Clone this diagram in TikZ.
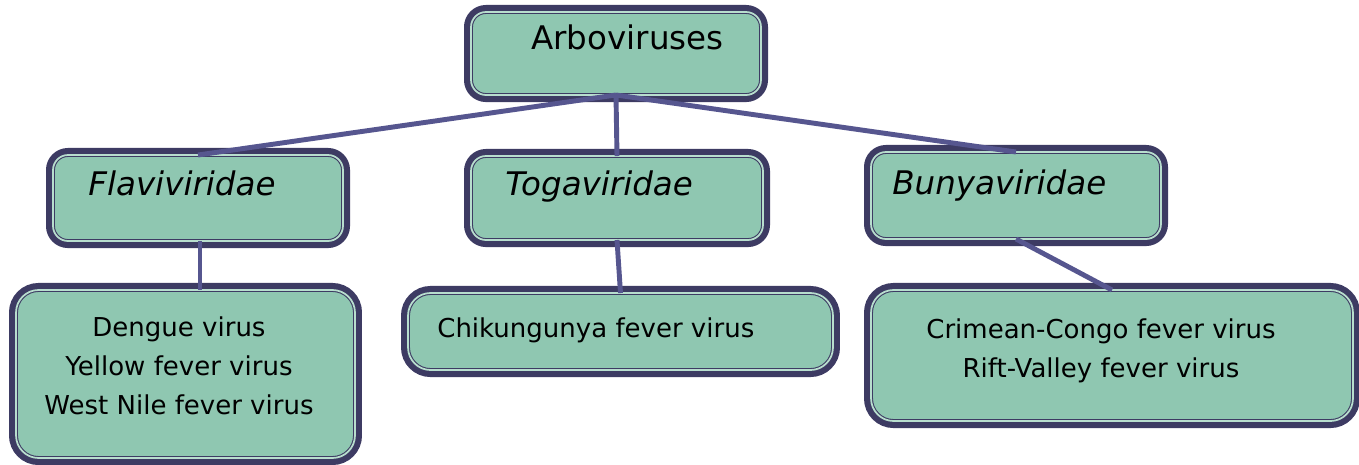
\documentclass[tikz,border=0pt]{standalone}
\usepackage{fontspec}
\setmainfont{DejaVu Sans}
\usetikzlibrary{calc,positioning}
\definecolor{BoxFill}{HTML}{8FC7B1}
\definecolor{BoxDark}{HTML}{3D3B63}
\definecolor{BoxLight}{HTML}{B8DECE}
\definecolor{LinkBlue}{HTML}{56568F}
\tikzset{
  head box/.style={rounded corners=0.3cm, fill=BoxFill, draw=BoxDark, line width=8pt,
    postaction={fill=BoxFill},
    postaction={draw=BoxDark, line width=0.6pt, double=BoxLight, double distance=1pt},
    inner sep=0, outer sep=0},
  leaf box/.style={head box, rounded corners=0.45cm},
  link/.style={LinkBlue, line width=2.8pt},
  head text/.style={font=\fontsize{18.5}{22}\selectfont, anchor=base west, inner sep=0},
  leaf text/.style={font=\fontsize{14.8}{22}\selectfont, align=center, anchor=base, inner sep=0}
}

\begin{document}
\begin{tikzpicture}[x=0.02cm, y=-0.02cm]
\useasboundingbox (0,0) rectangle (1359,464);

% family boxes
\node[head box, minimum width=5.8cm, minimum height=1.66cm] (arbo) at (616,53.5) {};
\node[head box, minimum width=5.8cm, minimum height=1.72cm] (flavi) at (198,198) {};
\node[head box, minimum width=5.84cm, minimum height=1.68cm] (toga) at (617,198) {};
\node[head box, minimum width=5.8cm, minimum height=1.74cm] (bunya) at (1016,195.5) {};

% virus boxes
\node[leaf box, minimum width=6.78cm, minimum height=3.36cm] (flavileaf) at (185.5,374) {};
\node[leaf box, minimum width=8.5cm, minimum height=1.54cm] (togaleaf) at (620.5,331.5) {};
\node[leaf box, minimum width=9.64cm, minimum height=2.62cm] (bunyaleaf) at (1112,355.5) {};

\node[head text] (arbolbl) at (531,49) {Arboviruses};
\node[head text, font=\fontsize{18.5}{22}\selectfont\itshape] (flavilbl) at (88,195) {Flaviviridae};
\node[head text, font=\fontsize{18.5}{22}\selectfont\itshape] (togalbl) at (505,195) {Togaviridae};
\node[head text, font=\fontsize{18.5}{22}\selectfont\itshape] (bunyalbl) at (892,194) {Bunyaviridae};

\node[leaf text] (flavilist) at (179,414) {Dengue virus\\Yellow fever virus\\West Nile fever virus};
\node[leaf text, anchor=base west] (togalist) at (437,337) {Chikungunya fever virus};
\node[leaf text] (bunyalist) at (1101,377) {Crimean-Congo fever virus\\Rift-Valley fever virus};

% connectors
\draw[link] (arbo.south) -- (flavi.north);
\draw[link] (arbo.south) -- (toga.north);
\draw[link] (arbo.south) -- (bunya.north);
\draw[link] ([xshift=0.04cm]flavi.south) -- ([xshift=0.04cm]flavi.south |- flavileaf.north);
\draw[link] (toga.south) -- (togaleaf.north);
\draw[link] (bunya.south) -- (bunyaleaf.north);
\end{tikzpicture}
\end{document}
